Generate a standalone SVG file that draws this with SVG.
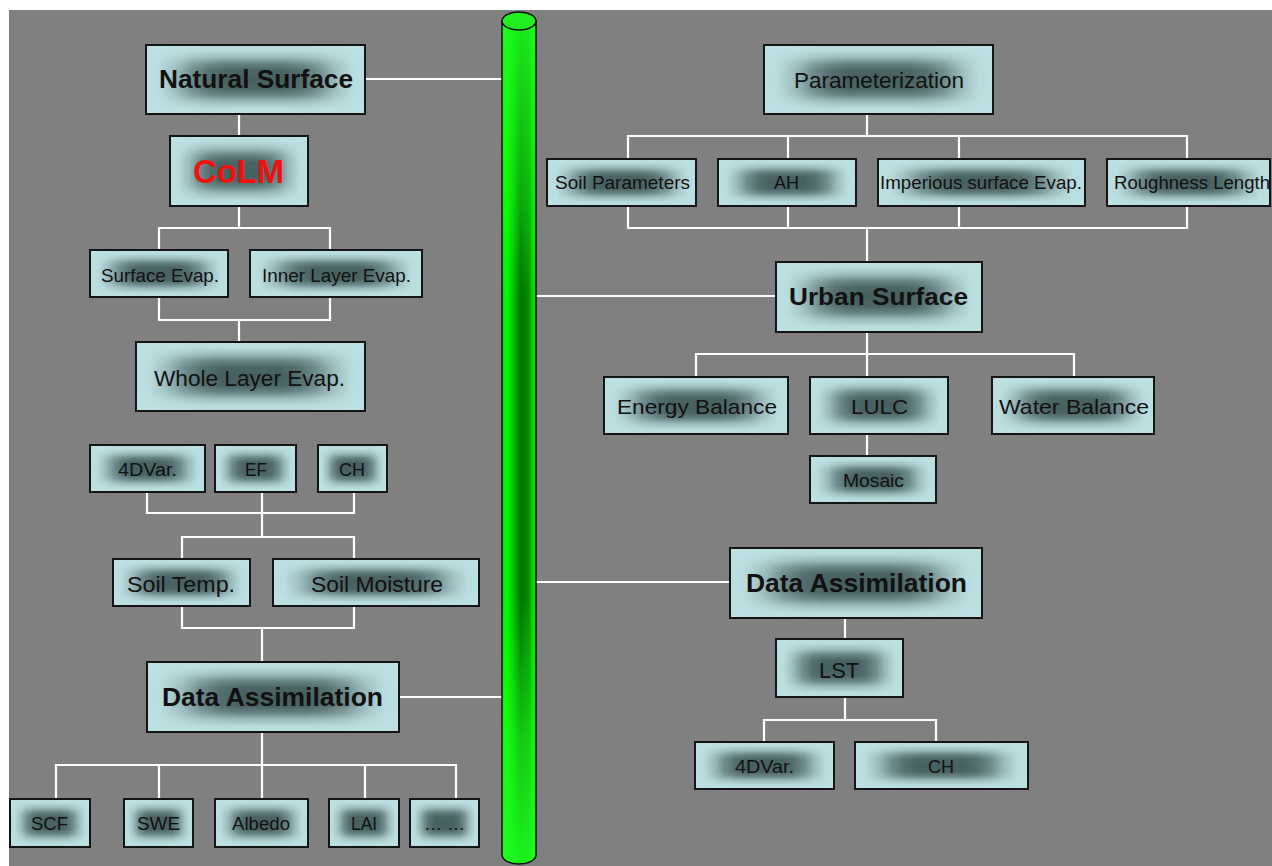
<svg xmlns="http://www.w3.org/2000/svg" xmlns:xlink="http://www.w3.org/1999/xlink" width="1272" height="866" viewBox="0 0 1272 866">
<style>
.box{fill:none;stroke:#141414;stroke-width:2}
.t{font-family:"Liberation Sans",Arial,sans-serif;fill:#111;text-anchor:middle}
.b{font-weight:bold}
.c{fill:none;stroke:#ffffff;stroke-width:2.2}
</style>
<defs>
<linearGradient id="dh" x1="0" y1="0" x2="1" y2="0">
<stop offset="0" stop-color="#46605f" stop-opacity="0"/><stop offset="0.06" stop-color="#46605f" stop-opacity="0.03"/><stop offset="0.14" stop-color="#46605f" stop-opacity="0.3"/><stop offset="0.21" stop-color="#46605f" stop-opacity="0.65"/><stop offset="0.29" stop-color="#46605f" stop-opacity="0.9"/><stop offset="0.37" stop-color="#46605f" stop-opacity="1"/><stop offset="0.63" stop-color="#46605f" stop-opacity="1"/><stop offset="0.71" stop-color="#46605f" stop-opacity="0.9"/><stop offset="0.79" stop-color="#46605f" stop-opacity="0.65"/><stop offset="0.86" stop-color="#46605f" stop-opacity="0.3"/><stop offset="0.94" stop-color="#46605f" stop-opacity="0.03"/><stop offset="1" stop-color="#46605f" stop-opacity="0"/>
</linearGradient>
<linearGradient id="lv" x1="0" y1="0" x2="0" y2="1">
<stop offset="0" stop-color="#000"/><stop offset="0.08" stop-color="#080808"/><stop offset="0.18" stop-color="#4d4d4d"/><stop offset="0.28" stop-color="#bfbfbf"/><stop offset="0.37" stop-color="#f7f7f7"/><stop offset="0.5" stop-color="#fff"/><stop offset="0.63" stop-color="#f7f7f7"/><stop offset="0.72" stop-color="#bfbfbf"/><stop offset="0.82" stop-color="#4d4d4d"/><stop offset="0.92" stop-color="#080808"/><stop offset="1" stop-color="#000"/>
</linearGradient>
<mask id="mv" maskUnits="userSpaceOnUse" x="0" y="0" width="100" height="100"><rect width="100" height="100" fill="url(#lv)"/></mask>
<symbol id="shade" viewBox="0 0 100 100" preserveAspectRatio="none">
<rect width="100" height="100" fill="#bde0e2"/>
<rect width="100" height="100" fill="url(#dh)" mask="url(#mv)"/>
</symbol>
<linearGradient id="cylH" x1="0" y1="0" x2="1" y2="0">
<stop offset="0" stop-color="#10d010"/><stop offset="0.12" stop-color="#00ff00"/><stop offset="0.32" stop-color="#00c800"/><stop offset="0.55" stop-color="#007000"/><stop offset="0.8" stop-color="#009000"/><stop offset="0.92" stop-color="#00e600"/><stop offset="1" stop-color="#00c000"/>
</linearGradient>
<linearGradient id="cylV" x1="0" y1="0" x2="0" y2="1">
<stop offset="0" stop-color="#20ff20" stop-opacity="0.85"/><stop offset="0.22" stop-color="#20ff20" stop-opacity="0.35"/><stop offset="0.33" stop-color="#20ff20" stop-opacity="0"/><stop offset="0.68" stop-color="#20ff20" stop-opacity="0"/><stop offset="0.85" stop-color="#20ff20" stop-opacity="0.6"/><stop offset="1" stop-color="#20ff20" stop-opacity="0.9"/>
</linearGradient>
</defs>

<rect x="0" y="0" width="1272" height="866" fill="#ffffff"/>
<rect x="9" y="10" width="1263" height="856" fill="#808080"/>

<g id="connectors">
<path class="c" d="M365,79 H502"/>
<path class="c" d="M239,114 V136"/>
<path class="c" d="M239,206 V228 M159,250 V228 H330 V250"/>
<path class="c" d="M159,297 V320 H330 V297 M239,320 V342"/>
<path class="c" d="M147,492 V513 H354 V492 M262,492 V537 M182,559 V537 H354 V559"/>
<path class="c" d="M182,606 V628 H354 V606 M262,628 V662"/>
<path class="c" d="M399,697 H502"/>
<path class="c" d="M262,732 V799 M56,799 V765 H456 V799 M159,765 V799 M365,765 V799"/>
<path class="c" d="M536,296 H776"/>
<path class="c" d="M536,582 H730"/>
<path class="c" d="M867,114 V136 M628,159 V136 H1187 V159 M788,136 V159 M959,136 V159"/>
<path class="c" d="M628,206 V228 H1187 V206 M788,206 V228 M959,206 V228 M867,228 V262"/>
<path class="c" d="M867,332 V377 M696,377 V354 H1074 V377"/>
<path class="c" d="M867,434 V456"/>
<path class="c" d="M845,618 V639"/>
<path class="c" d="M845,697 V720 M764,742 V720 H936 V742"/>
</g>

<g id="cylinder">
<path d="M502,21 V855 A17,9 0 0 0 536,855 V21 Z" fill="url(#cylH)"/>
<path d="M502,21 V855 A17,9 0 0 0 536,855 V21 Z" fill="url(#cylV)" stroke="#111" stroke-width="1.5"/>
<ellipse cx="519" cy="21" rx="17" ry="9" fill="#22ee22" stroke="#111" stroke-width="1.5"/>
</g>

<g id="n-natural"><use href="#shade" xlink:href="#shade" x="146" y="45" width="219" height="69"/><rect class="box" x="146" y="45" width="219" height="69"/><text class="t b" x="256" y="88" font-size="25" textLength="194" lengthAdjust="spacingAndGlyphs">Natural Surface</text></g>
<g id="n-colm"><use href="#shade" xlink:href="#shade" x="170" y="136" width="138" height="70"/><rect class="box" x="170" y="136" width="138" height="70"/><text class="t b" x="238.5" y="183" font-size="33" style="fill:#f01010" textLength="91" lengthAdjust="spacingAndGlyphs">CoLM</text></g>
<g id="n-surfevap"><use href="#shade" xlink:href="#shade" x="90" y="250" width="138" height="47"/><rect class="box" x="90" y="250" width="138" height="47"/><text class="t" x="160" y="282" font-size="19" textLength="118" lengthAdjust="spacingAndGlyphs">Surface Evap.</text></g>
<g id="n-innerevap"><use href="#shade" xlink:href="#shade" x="250" y="250" width="172" height="47"/><rect class="box" x="250" y="250" width="172" height="47"/><text class="t" x="336.5" y="282" font-size="19" textLength="149" lengthAdjust="spacingAndGlyphs">Inner Layer Evap.</text></g>
<g id="n-wholeevap"><use href="#shade" xlink:href="#shade" x="136" y="342" width="229" height="69"/><rect class="box" x="136" y="342" width="229" height="69"/><text class="t" x="249.5" y="386" font-size="22" textLength="191" lengthAdjust="spacingAndGlyphs">Whole Layer Evap.</text></g>
<g id="n-4dvar-l"><use href="#shade" xlink:href="#shade" x="90" y="445" width="115" height="47"/><rect class="box" x="90" y="445" width="115" height="47"/><text class="t" x="147.5" y="476" font-size="18" textLength="59" lengthAdjust="spacingAndGlyphs">4DVar.</text></g>
<g id="n-ef"><use href="#shade" xlink:href="#shade" x="215" y="445" width="81" height="47"/><rect class="box" x="215" y="445" width="81" height="47"/><text class="t" x="256" y="476" font-size="18" textLength="22" lengthAdjust="spacingAndGlyphs">EF</text></g>
<g id="n-ch-l"><use href="#shade" xlink:href="#shade" x="318" y="445" width="69" height="47"/><rect class="box" x="318" y="445" width="69" height="47"/><text class="t" x="352" y="476" font-size="18" textLength="26" lengthAdjust="spacingAndGlyphs">CH</text></g>
<g id="n-soiltemp"><use href="#shade" xlink:href="#shade" x="113" y="559" width="137" height="47"/><rect class="box" x="113" y="559" width="137" height="47"/><text class="t" x="181" y="592" font-size="22" textLength="108" lengthAdjust="spacingAndGlyphs">Soil Temp.</text></g>
<g id="n-soilmoist"><use href="#shade" xlink:href="#shade" x="273" y="559" width="206" height="47"/><rect class="box" x="273" y="559" width="206" height="47"/><text class="t" x="377" y="592" font-size="22" textLength="132" lengthAdjust="spacingAndGlyphs">Soil Moisture</text></g>
<g id="n-da-l"><use href="#shade" xlink:href="#shade" x="147" y="662" width="252" height="70"/><rect class="box" x="147" y="662" width="252" height="70"/><text class="t b" x="272.5" y="706" font-size="25" textLength="221" lengthAdjust="spacingAndGlyphs">Data Assimilation</text></g>
<g id="n-scf"><use href="#shade" xlink:href="#shade" x="10" y="799" width="80" height="48"/><rect class="box" x="10" y="799" width="80" height="48"/><text class="t" x="49.5" y="830" font-size="18" textLength="37" lengthAdjust="spacingAndGlyphs">SCF</text></g>
<g id="n-swe"><use href="#shade" xlink:href="#shade" x="124" y="799" width="69" height="48"/><rect class="box" x="124" y="799" width="69" height="48"/><text class="t" x="158.5" y="830" font-size="18" textLength="43" lengthAdjust="spacingAndGlyphs">SWE</text></g>
<g id="n-albedo"><use href="#shade" xlink:href="#shade" x="215" y="799" width="93" height="48"/><rect class="box" x="215" y="799" width="93" height="48"/><text class="t" x="261" y="830" font-size="18" textLength="58" lengthAdjust="spacingAndGlyphs">Albedo</text></g>
<g id="n-lai"><use href="#shade" xlink:href="#shade" x="329" y="799" width="70" height="48"/><rect class="box" x="329" y="799" width="70" height="48"/><text class="t" x="364" y="830" font-size="18" textLength="26" lengthAdjust="spacingAndGlyphs">LAI</text></g>
<g id="n-etc"><use href="#shade" xlink:href="#shade" x="410" y="799" width="69" height="48"/><rect class="box" x="410" y="799" width="69" height="48"/><text class="t" x="444.5" y="830" font-size="18" textLength="41" lengthAdjust="spacingAndGlyphs">… …</text></g>

<g id="n-param"><use href="#shade" xlink:href="#shade" x="764" y="45" width="229" height="69"/><rect class="box" x="764" y="45" width="229" height="69"/><text class="t" x="879" y="88" font-size="22" textLength="170" lengthAdjust="spacingAndGlyphs">Parameterization</text></g>
<g id="n-soilparam"><use href="#shade" xlink:href="#shade" x="547" y="159" width="149" height="47"/><rect class="box" x="547" y="159" width="149" height="47"/><text class="t" x="622.5" y="189" font-size="18" textLength="135" lengthAdjust="spacingAndGlyphs">Soil Parameters</text></g>
<g id="n-ah"><use href="#shade" xlink:href="#shade" x="718" y="159" width="138" height="47"/><rect class="box" x="718" y="159" width="138" height="47"/><text class="t" x="786.5" y="189" font-size="18" textLength="25" lengthAdjust="spacingAndGlyphs">AH</text></g>
<g id="n-imperious"><use href="#shade" xlink:href="#shade" x="878" y="159" width="207" height="47"/><rect class="box" x="878" y="159" width="207" height="47"/><text class="t" x="981" y="189" font-size="18" textLength="202" lengthAdjust="spacingAndGlyphs">Imperious surface Evap.</text></g>
<g id="n-rough"><use href="#shade" xlink:href="#shade" x="1107" y="159" width="163" height="47"/><rect class="box" x="1107" y="159" width="163" height="47"/><text class="t" x="1192" y="189" font-size="18" textLength="156" lengthAdjust="spacingAndGlyphs">Roughness Length</text></g>
<g id="n-urban"><use href="#shade" xlink:href="#shade" x="776" y="262" width="206" height="70"/><rect class="box" x="776" y="262" width="206" height="70"/><text class="t b" x="878.5" y="305" font-size="24" textLength="179" lengthAdjust="spacingAndGlyphs">Urban Surface</text></g>
<g id="n-energy"><use href="#shade" xlink:href="#shade" x="604" y="377" width="184" height="57"/><rect class="box" x="604" y="377" width="184" height="57"/><text class="t" x="697" y="414" font-size="21" textLength="160" lengthAdjust="spacingAndGlyphs">Energy Balance</text></g>
<g id="n-lulc"><use href="#shade" xlink:href="#shade" x="810" y="377" width="138" height="57"/><rect class="box" x="810" y="377" width="138" height="57"/><text class="t" x="879.5" y="414" font-size="21" textLength="57" lengthAdjust="spacingAndGlyphs">LULC</text></g>
<g id="n-water"><use href="#shade" xlink:href="#shade" x="992" y="377" width="162" height="57"/><rect class="box" x="992" y="377" width="162" height="57"/><text class="t" x="1074" y="414" font-size="21" textLength="150" lengthAdjust="spacingAndGlyphs">Water Balance</text></g>
<g id="n-mosaic"><use href="#shade" xlink:href="#shade" x="810" y="456" width="126" height="47"/><rect class="box" x="810" y="456" width="126" height="47"/><text class="t" x="873.5" y="487" font-size="18" textLength="61" lengthAdjust="spacingAndGlyphs">Mosaic</text></g>
<g id="n-da-r"><use href="#shade" xlink:href="#shade" x="730" y="548" width="252" height="70"/><rect class="box" x="730" y="548" width="252" height="70"/><text class="t b" x="856.5" y="592" font-size="25" textLength="221" lengthAdjust="spacingAndGlyphs">Data Assimilation</text></g>
<g id="n-lst"><use href="#shade" xlink:href="#shade" x="776" y="639" width="127" height="58"/><rect class="box" x="776" y="639" width="127" height="58"/><text class="t" x="839" y="678" font-size="22" textLength="40" lengthAdjust="spacingAndGlyphs">LST</text></g>
<g id="n-4dvar-r"><use href="#shade" xlink:href="#shade" x="695" y="742" width="139" height="47"/><rect class="box" x="695" y="742" width="139" height="47"/><text class="t" x="764.5" y="773" font-size="18" textLength="59" lengthAdjust="spacingAndGlyphs">4DVar.</text></g>
<g id="n-ch-r"><use href="#shade" xlink:href="#shade" x="855" y="742" width="173" height="47"/><rect class="box" x="855" y="742" width="173" height="47"/><text class="t" x="941" y="773" font-size="18" textLength="26" lengthAdjust="spacingAndGlyphs">CH</text></g>
</svg>
